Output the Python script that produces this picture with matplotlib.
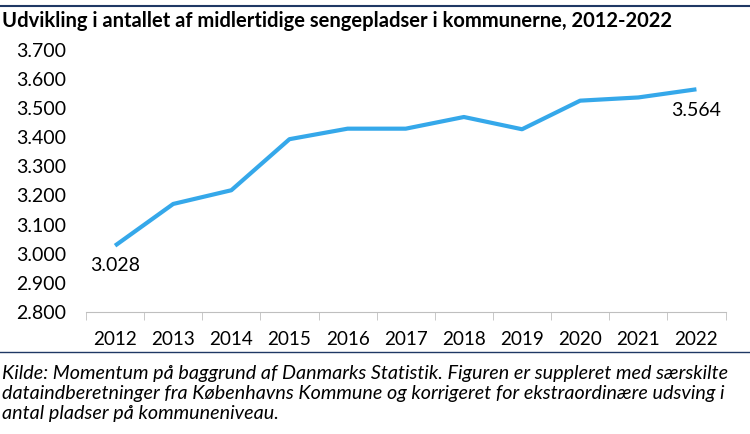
import matplotlib
matplotlib.use("Agg")
import matplotlib.pyplot as plt
from matplotlib.lines import Line2D

years = ["2012", "2013", "2014", "2015", "2016", "2017", "2018", "2019", "2020", "2021", "2022"]
values = [3028, 3171, 3218, 3393, 3429, 3429, 3469, 3427, 3525, 3536, 3564]
yticks = [2800, 2900, 3000, 3100, 3200, 3300, 3400, 3500, 3600, 3700]
title = "Udvikling i antallet af midlertidige sengepladser i kommunerne, 2012-2022"
caption = ("Kilde: Momentum på baggrund af Danmarks Statistik. Figuren er suppleret med særskilte\n"
           "dataindberetninger fra Københavns Kommune og korrigeret for ekstraordinære udsving i\n"
           "antal pladser på kommuneniveau.")

plt.rcParams['font.family'] = ['Lato', 'DejaVu Sans']

fig = plt.figure(figsize=(7.5, 4.34), dpi=100)
W, H = 750, 434
ax = fig.add_axes([86 / W, 1 - 312.2 / H, (725.5 - 86) / W, (312.2 - 49.6) / H])

x = list(range(len(years)))
ax.plot(x, values, color="#35A8EA", lw=3, solid_capstyle="butt", solid_joinstyle="round")
ax.set_xlim(-0.5, len(years) - 0.5)
ax.set_ylim(2800, 3700)
ax.set_yticks(yticks)
ax.set_yticklabels([f"{v:,}".replace(",", ".") for v in yticks], fontsize=14)
ax.set_xticks(x)
ax.set_xticklabels(years, fontsize=13.6)
ax.tick_params(axis="y", length=0, pad=14.5)
ax.tick_params(axis="x", length=0, pad=13.5)
# boundary ticks
ax.set_xticks([i - 0.5 for i in range(len(years) + 1)], minor=True)
ax.tick_params(axis="x", which="minor", length=6, color="#BFBFBF", direction="out")
for s in ["top", "right", "left"]:
    ax.spines[s].set_visible(False)
ax.spines["bottom"].set_color("#BFBFBF")

ax.annotate(f"{values[0]:,}".replace(",", "."), (x[0], values[0]), xytext=(0, -14.2),
            textcoords="offset points", ha="center", va="center", fontsize=14)
ax.annotate(f"{values[-1]:,}".replace(",", "."), (x[-1], values[-1]), xytext=(0, -15),
            textcoords="offset points", ha="center", va="center", fontsize=14)

fig.text(2 / W, 1 - 21 / H, title, fontsize=14.5, fontweight="bold", ha="left", va="center")
fig.text(2 / W, 1 - 393.5 / H, caption, fontsize=14.2, style="italic", ha="left", va="center",
         linespacing=1.24)
fig.add_artist(Line2D([0, 1], [1 - 6 / H, 1 - 6 / H], color="#1F3864", lw=1.5,
                      transform=fig.transFigure))
fig.add_artist(Line2D([0, 1], [1 - 352.3 / H, 1 - 352.3 / H], color="#1F3864", lw=1.0,
                      transform=fig.transFigure))

fig.savefig("out.png", dpi=100)
